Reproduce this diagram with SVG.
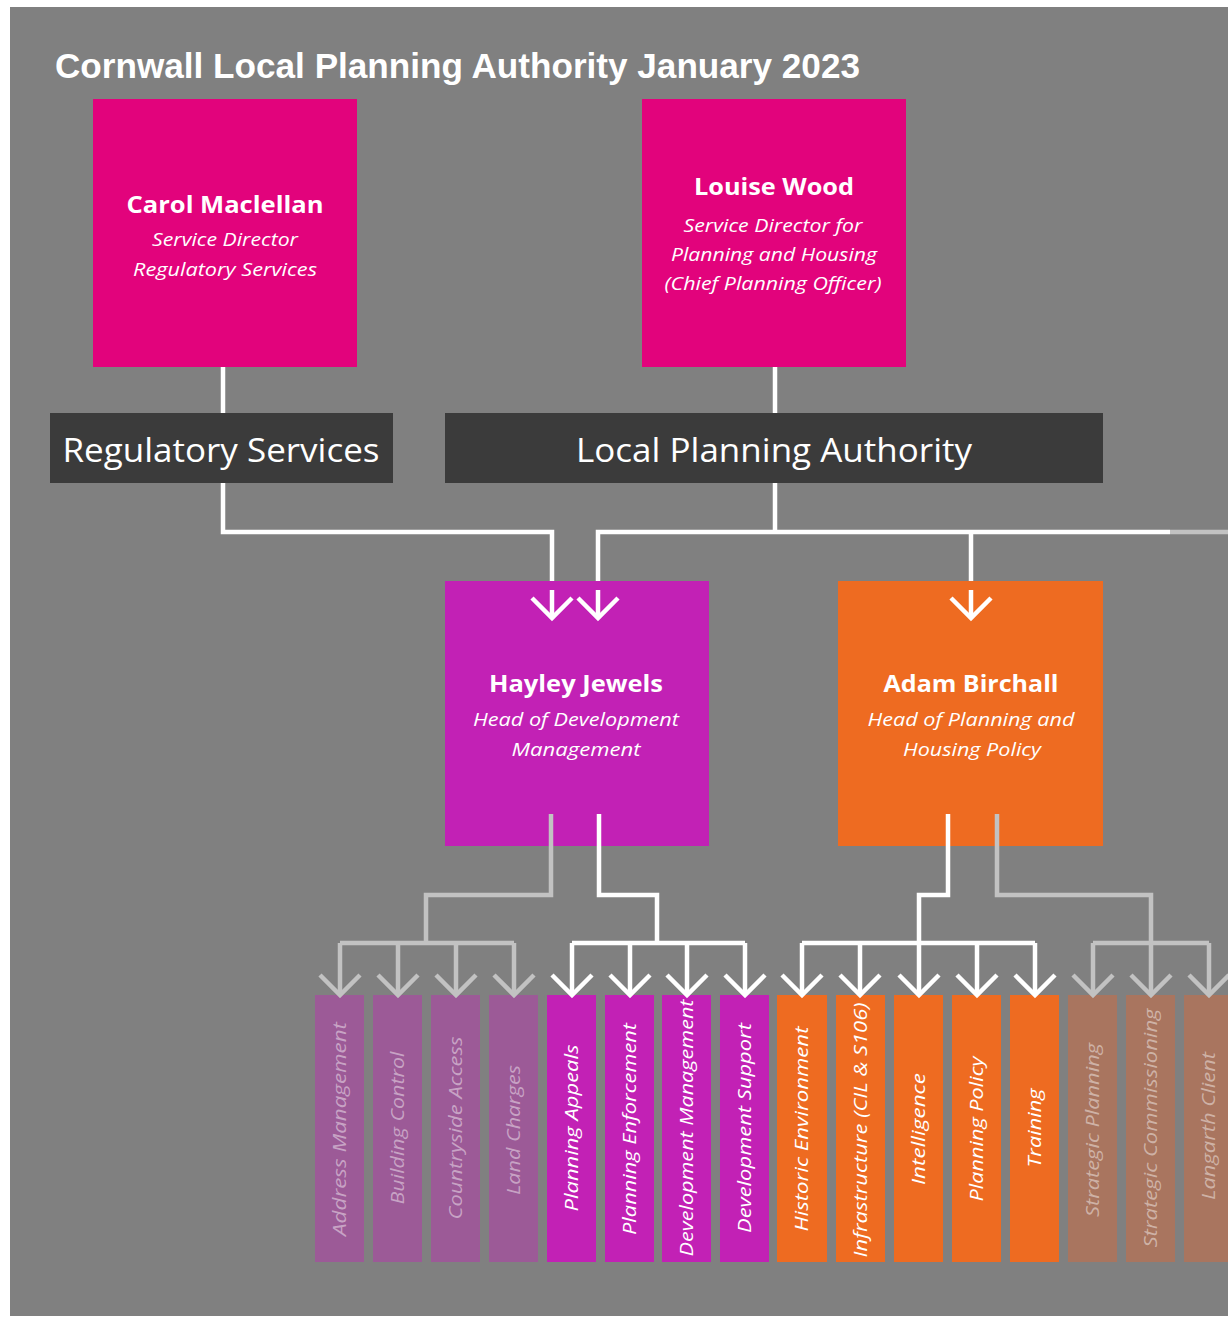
<svg xmlns="http://www.w3.org/2000/svg" width="1228" height="1317" viewBox="0 0 1228 1317">
<style>
.title{font-family:"Liberation Sans","Open Sans",sans-serif;font-weight:bold;font-size:35px;fill:#fff}
.bar{fill:#3b3b3b}
.bartxt{font-family:"Open Sans","Liberation Sans",sans-serif;font-size:33px;fill:#fff;text-anchor:middle}
.name{font-family:"Open Sans","Liberation Sans",sans-serif;font-weight:bold;font-size:24px;fill:#fff;text-anchor:middle}
.sub{font-family:"Open Sans","Liberation Sans",sans-serif;font-style:italic;font-size:18px;fill:#fff;text-anchor:middle}
.col{font-family:"Open Sans","Liberation Sans",sans-serif;font-style:italic;font-size:18px;fill:#fff;text-anchor:middle}
.dimtxt{fill:#fff;fill-opacity:0.45}
.pink{fill:#E2037C}
.purple{fill:#C221B5}
.orange{fill:#EE6B21}
.dpurple{fill:#9C5A97}
.dbrown{fill:#A9755F}
.w{fill:none;stroke:#fff;stroke-width:4.5}
.g{fill:none;stroke:#C2C2C2;stroke-width:4.5}
.wa{marker-end:url(#arrW)}
.ga{marker-end:url(#arrG)}
</style>
<defs>
<marker id="arrW" markerUnits="userSpaceOnUse" markerWidth="60" markerHeight="60" viewBox="-30 -30 60 60" refX="0" refY="0" orient="auto" overflow="visible">
<path d="M-20,-20 L0,0 L-20,20" fill="none" stroke="#fff" stroke-width="4.5"/>
</marker>
<marker id="arrG" markerUnits="userSpaceOnUse" markerWidth="60" markerHeight="60" viewBox="-30 -30 60 60" refX="0" refY="0" orient="auto" overflow="visible">
<path d="M-20,-20 L0,0 L-20,20" fill="none" stroke="#C2C2C2" stroke-width="4.5"/>
</marker>
</defs>
<rect x="0" y="0" width="1228" height="1317" fill="#fff"/>
<rect x="10" y="7" width="1218" height="1309" fill="#808080"/>
<text class="title" x="55" y="78" textLength="805" lengthAdjust="spacingAndGlyphs">Cornwall Local Planning Authority January 2023</text>

<g id="n-carol">
<rect class="pink" x="93" y="99" width="264" height="268"/>
<text class="name" x="225" y="213" textLength="197" lengthAdjust="spacingAndGlyphs">Carol Maclellan</text>
<text class="sub" x="225" y="246" textLength="146" lengthAdjust="spacingAndGlyphs">Service Director</text>
<text class="sub" x="225" y="276" textLength="184" lengthAdjust="spacingAndGlyphs">Regulatory Services</text>
</g>
<g id="n-louise">
<rect class="pink" x="642" y="99" width="264" height="268"/>
<text class="name" x="774" y="195" textLength="160" lengthAdjust="spacingAndGlyphs">Louise Wood</text>
<text class="sub" x="773" y="232" textLength="179" lengthAdjust="spacingAndGlyphs">Service Director for</text>
<text class="sub" x="774" y="261" textLength="206" lengthAdjust="spacingAndGlyphs">Planning and Housing</text>
<text class="sub" x="773" y="290" textLength="217" lengthAdjust="spacingAndGlyphs">(Chief Planning Officer)</text>
</g>

<g id="connectors">
<path class="w" d="M223,367 V413"/>
<path class="w" d="M775,367 V413"/>
<path class="w wa" d="M223,483 V532 H552 V618"/>
<path class="w" d="M775,483 V532"/>
<path class="w wa" d="M1170,532 H598 V618"/>
<path class="w wa" d="M971,532 V618"/>
<path class="g" d="M1170,532 H1228"/>
</g>

<g id="n-regulatory">
<rect class="bar" x="50" y="413" width="343" height="70"/>
<text class="bartxt" x="221" y="462" textLength="317" lengthAdjust="spacingAndGlyphs">Regulatory Services</text>
</g>
<g id="n-lpa">
<rect class="bar" x="445" y="413" width="658" height="70"/>
<text class="bartxt" x="774" y="462" textLength="396" lengthAdjust="spacingAndGlyphs">Local Planning Authority</text>
</g>

<g id="n-hayley">
<rect class="purple" x="445" y="581" width="264" height="265"/>
<text class="name" x="576" y="692" textLength="174" lengthAdjust="spacingAndGlyphs">Hayley Jewels</text>
<text class="sub" x="576" y="726" textLength="206" lengthAdjust="spacingAndGlyphs">Head of Development</text>
<text class="sub" x="576" y="756" textLength="129" lengthAdjust="spacingAndGlyphs">Management</text>
</g>
<g id="n-adam">
<rect class="orange" x="838" y="581" width="265" height="265"/>
<text class="name" x="971" y="692" textLength="175" lengthAdjust="spacingAndGlyphs">Adam Birchall</text>
<text class="sub" x="971" y="726" textLength="207" lengthAdjust="spacingAndGlyphs">Head of Planning and</text>
<text class="sub" x="972" y="756" textLength="138" lengthAdjust="spacingAndGlyphs">Housing Policy</text>
</g>

<g id="connectors-top-arrows">
<path class="w wa" d="M552,590 V618"/>
<path class="w wa" d="M598,590 V618"/>
<path class="w wa" d="M971,590 V618"/>
</g>

<g id="n-address"><rect class="dpurple" x="315" y="995" width="49" height="267"/><text class="col dimtxt" x="339.5" y="1135.5" transform="rotate(-90 339.5 1129)" textLength="214" lengthAdjust="spacingAndGlyphs">Address Management</text></g>
<g id="n-building"><rect class="dpurple" x="373" y="995" width="49" height="267"/><text class="col dimtxt" x="397.5" y="1134.5" transform="rotate(-90 397.5 1128)" textLength="153" lengthAdjust="spacingAndGlyphs">Building Control</text></g>
<g id="n-countryside"><rect class="dpurple" x="431" y="995" width="49" height="267"/><text class="col dimtxt" x="455.5" y="1134.5" transform="rotate(-90 455.5 1128)" textLength="183" lengthAdjust="spacingAndGlyphs">Countryside Access</text></g>
<g id="n-landcharges"><rect class="dpurple" x="489" y="995" width="49" height="267"/><text class="col dimtxt" x="513.5" y="1136.5" transform="rotate(-90 513.5 1130)" textLength="130" lengthAdjust="spacingAndGlyphs">Land Charges</text></g>
<g id="n-appeals"><rect class="purple" x="547" y="995" width="49" height="267"/><text class="col" x="571.5" y="1134.5" transform="rotate(-90 571.5 1128)" textLength="167" lengthAdjust="spacingAndGlyphs">Planning Appeals</text></g>
<g id="n-enforcement"><rect class="purple" x="605" y="995" width="49" height="267"/><text class="col" x="629.5" y="1135.5" transform="rotate(-90 629.5 1129)" textLength="212" lengthAdjust="spacingAndGlyphs">Planning Enforcement</text></g>
<g id="n-devman"><rect class="purple" x="662" y="995" width="49" height="267"/><text class="col" x="686.5" y="1134.5" transform="rotate(-90 686.5 1128)" textLength="257" lengthAdjust="spacingAndGlyphs">Development Management</text></g>
<g id="n-devsupport"><rect class="purple" x="720" y="995" width="49" height="267"/><text class="col" x="744.5" y="1134.5" transform="rotate(-90 744.5 1128)" textLength="210" lengthAdjust="spacingAndGlyphs">Development Support</text></g>
<g id="n-historic"><rect class="orange" x="777" y="995" width="50" height="267"/><text class="col" x="801.5" y="1135.5" transform="rotate(-90 801.5 1129)" textLength="205" lengthAdjust="spacingAndGlyphs">Historic Environment</text></g>
<g id="n-infra"><rect class="orange" x="836" y="995" width="49" height="267"/><text class="col" x="860.5" y="1136.5" transform="rotate(-90 860.5 1130)" textLength="255" lengthAdjust="spacingAndGlyphs">Infrastructure (CIL &amp; S106)</text></g>
<g id="n-intelligence"><rect class="orange" x="894" y="995" width="49" height="267"/><text class="col" x="918.5" y="1135.5" transform="rotate(-90 918.5 1129)" textLength="112" lengthAdjust="spacingAndGlyphs">Intelligence</text></g>
<g id="n-policy"><rect class="orange" x="952" y="995" width="49" height="267"/><text class="col" x="976.5" y="1135.5" transform="rotate(-90 976.5 1129)" textLength="145" lengthAdjust="spacingAndGlyphs">Planning Policy</text></g>
<g id="n-training"><rect class="orange" x="1010" y="995" width="49" height="267"/><text class="col" x="1034.5" y="1134.5" transform="rotate(-90 1034.5 1128)" textLength="79" lengthAdjust="spacingAndGlyphs">Training</text></g>
<g id="n-strategic"><rect class="dbrown" x="1068" y="995" width="49" height="267"/><text class="col dimtxt" x="1092.5" y="1136.5" transform="rotate(-90 1092.5 1130)" textLength="174" lengthAdjust="spacingAndGlyphs">Strategic Planning</text></g>
<g id="n-commissioning"><rect class="dbrown" x="1126" y="995" width="49" height="267"/><text class="col dimtxt" x="1150.5" y="1134.5" transform="rotate(-90 1150.5 1128)" textLength="239" lengthAdjust="spacingAndGlyphs">Strategic Commissioning</text></g>
<g id="n-langarth"><rect class="dbrown" x="1184" y="995" width="49" height="267"/><text class="col dimtxt" x="1208.5" y="1132.5" transform="rotate(-90 1208.5 1126)" textLength="148" lengthAdjust="spacingAndGlyphs">Langarth Client</text></g>

<g id="connectors-lower">
<path class="g" d="M551,814 V895 H426 V943"/>
<path class="g" d="M340,943 H514"/>
<path class="g ga" d="M340,943 V995"/>
<path class="g ga" d="M398,943 V995"/>
<path class="g ga" d="M456,943 V995"/>
<path class="g ga" d="M514,943 V995"/>
<path class="w" d="M599,814 V895 H657 V943"/>
<path class="w" d="M572,943 H745"/>
<path class="w wa" d="M572,943 V995"/>
<path class="w wa" d="M630,943 V995"/>
<path class="w wa" d="M687,943 V995"/>
<path class="w wa" d="M745,943 V995"/>
<path class="w" d="M948,814 V895 H919 V943"/>
<path class="w" d="M802,943 H1035"/>
<path class="w wa" d="M802,943 V995"/>
<path class="w wa" d="M860,943 V995"/>
<path class="w wa" d="M919,943 V995"/>
<path class="w wa" d="M977,943 V995"/>
<path class="w wa" d="M1035,943 V995"/>
<path class="g ga" d="M997,814 V895 H1151 V995"/>
<path class="g" d="M1093,943 H1209"/>
<path class="g ga" d="M1093,943 V995"/>
<path class="g ga" d="M1209,943 V995"/>
</g>
</svg>
